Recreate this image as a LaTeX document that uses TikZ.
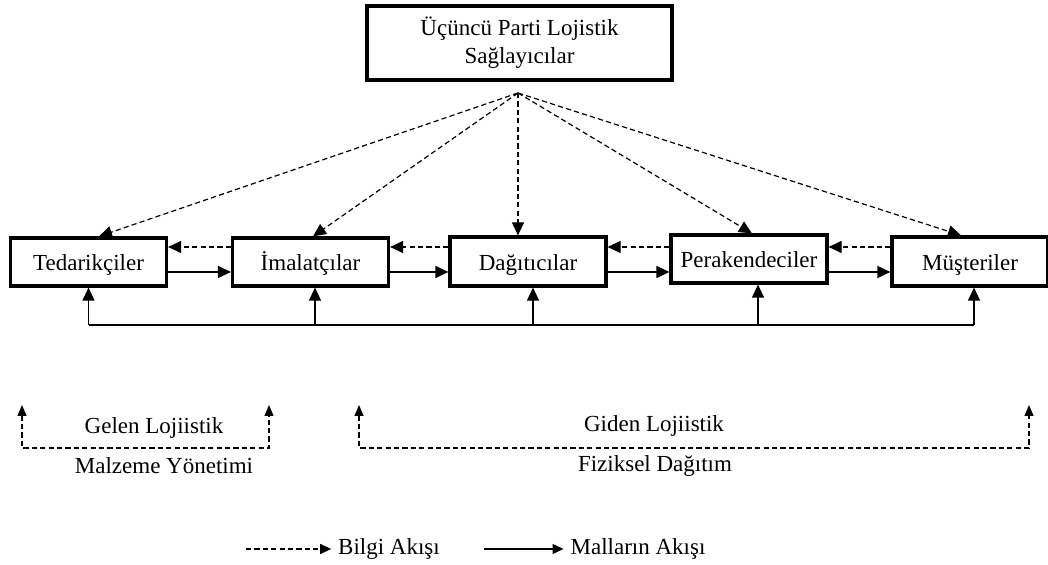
\documentclass[tikz,border=0pt]{standalone}
\usepackage{fontspec}
\setmainfont{Liberation Serif}
\usetikzlibrary{arrows.meta}
\begin{document}
\begin{tikzpicture}[x=0.5pt,y=-0.5pt,
    font=\fontsize{11.5}{14}\selectfont,
    kutu/.style={draw,line width=1.6pt,minimum width=78pt,minimum height=24pt,inner sep=0pt,text height=9pt,text depth=0pt},
    bilgi/.style={dashed,dash pattern=on 2.6pt off 1.6pt,line width=0.6pt,-{Triangle[length=6.5pt,width=6pt]}},
    mal/.style={line width=0.6pt,-{Triangle[length=6.5pt,width=6pt]}},
    ayrac/.style={dashed,dash pattern=on 2.6pt off 1.6pt,line width=0.6pt,{Triangle[length=5.5pt,width=4.5pt]}-{Triangle[length=5.5pt,width=4.5pt]}}]
    \useasboundingbox (0,0) rectangle (1048,565);

    % üst kutu
    \node [kutu,minimum width=152.5pt,minimum height=37pt,align=center,text height=,text depth=] (ucp) at (519.5,43) {Üçüncü Parti Lojistik\\Sağlayıcılar};
    \coordinate (tepe) at (518,93);

    % zincir kutuları
    \node [kutu] (ted) at (88.5,262) {Tedarikçiler};
    \node [kutu] (ima) at (310.5,262) {İmalatçılar};
    \node [kutu,minimum height=24.5pt] (dag) at (528,261.5) {Dağıtıcılar};
    \node [kutu] (per) at (749,259) {Perakendeciler};
    \node [kutu,minimum height=24.5pt] (mus) at (970,261.5) {Müşteriler};

    % tepeden kutulara bilgi akışı
    \draw [bilgi] (tepe) -- ([xshift=5.25pt]ted.north);
    \draw [bilgi] (tepe) -- ([xshift=1.25pt]ima.north);
    \draw [bilgi] (tepe) -- (tepe |- dag.north);
    \draw [bilgi] (tepe) -- ([xshift=1.5pt]per.north);
    \draw [bilgi] (tepe) -- ([xshift=-4.5pt]mus.north);

    % kutular arası akışlar
    \foreach \a/\b in {ted/ima,ima/dag,dag/per,per/mus} {
        \draw [bilgi] (\b.west |- 0,247) -- (\a.east |- 0,247);
        \draw [mal] (\a.east |- 0,272) -- (\b.west |- 0,272);
    }

    % alttaki geri dönüş hattı
    \coordinate (alt) at (0,325);
    \draw [line width=0.6pt] (ted.south |- alt) -- ([xshift=2pt]mus.south |- alt);
    \foreach \k/\s in {ted/0pt,ima/2.25pt,dag/2.5pt,per/4.5pt,mus/2pt}
        \draw [mal] ([xshift=\s]\k.south |- alt) -- ([xshift=\s]\k.south);

    % gelen ve giden lojistik
    \coordinate (g1) at (22,405);
    \coordinate (g2) at (269,405);
    \coordinate (d1) at (359,405);
    \coordinate (d2) at (1029,405);
    \draw [ayrac] (g1) -- (g1 |- 0,448) -- (g2 |- 0,448) -- (g2);
    \draw [ayrac] (d1) -- (d1 |- 0,448) -- (d2 |- 0,448) -- (d2);
    \node (gelen) at (154,428) {Gelen Lojiistik};
    \node (malz) at (164,466) {Malzeme Yönetimi};
    \node (giden) at (654,426) {Giden Lojiistik};
    \node (fiz) at (655,466) {Fiziksel Dağıtım};

    % açıklama
    \node (lbilgi) at (389,549) {Bilgi Akışı};
    \node (lmal) at (638,549) {Malların Akışı};
    \coordinate (l1) at (246,549);
    \coordinate (l2) at (484,549);
    \draw [bilgi,-{Triangle[length=5.5pt,width=5pt]}] (l1) -- (lbilgi.west);
    \draw [mal,-{Triangle[length=5.5pt,width=5pt]}] (l2) -- (lmal.west);
\end{tikzpicture}
\end{document}
